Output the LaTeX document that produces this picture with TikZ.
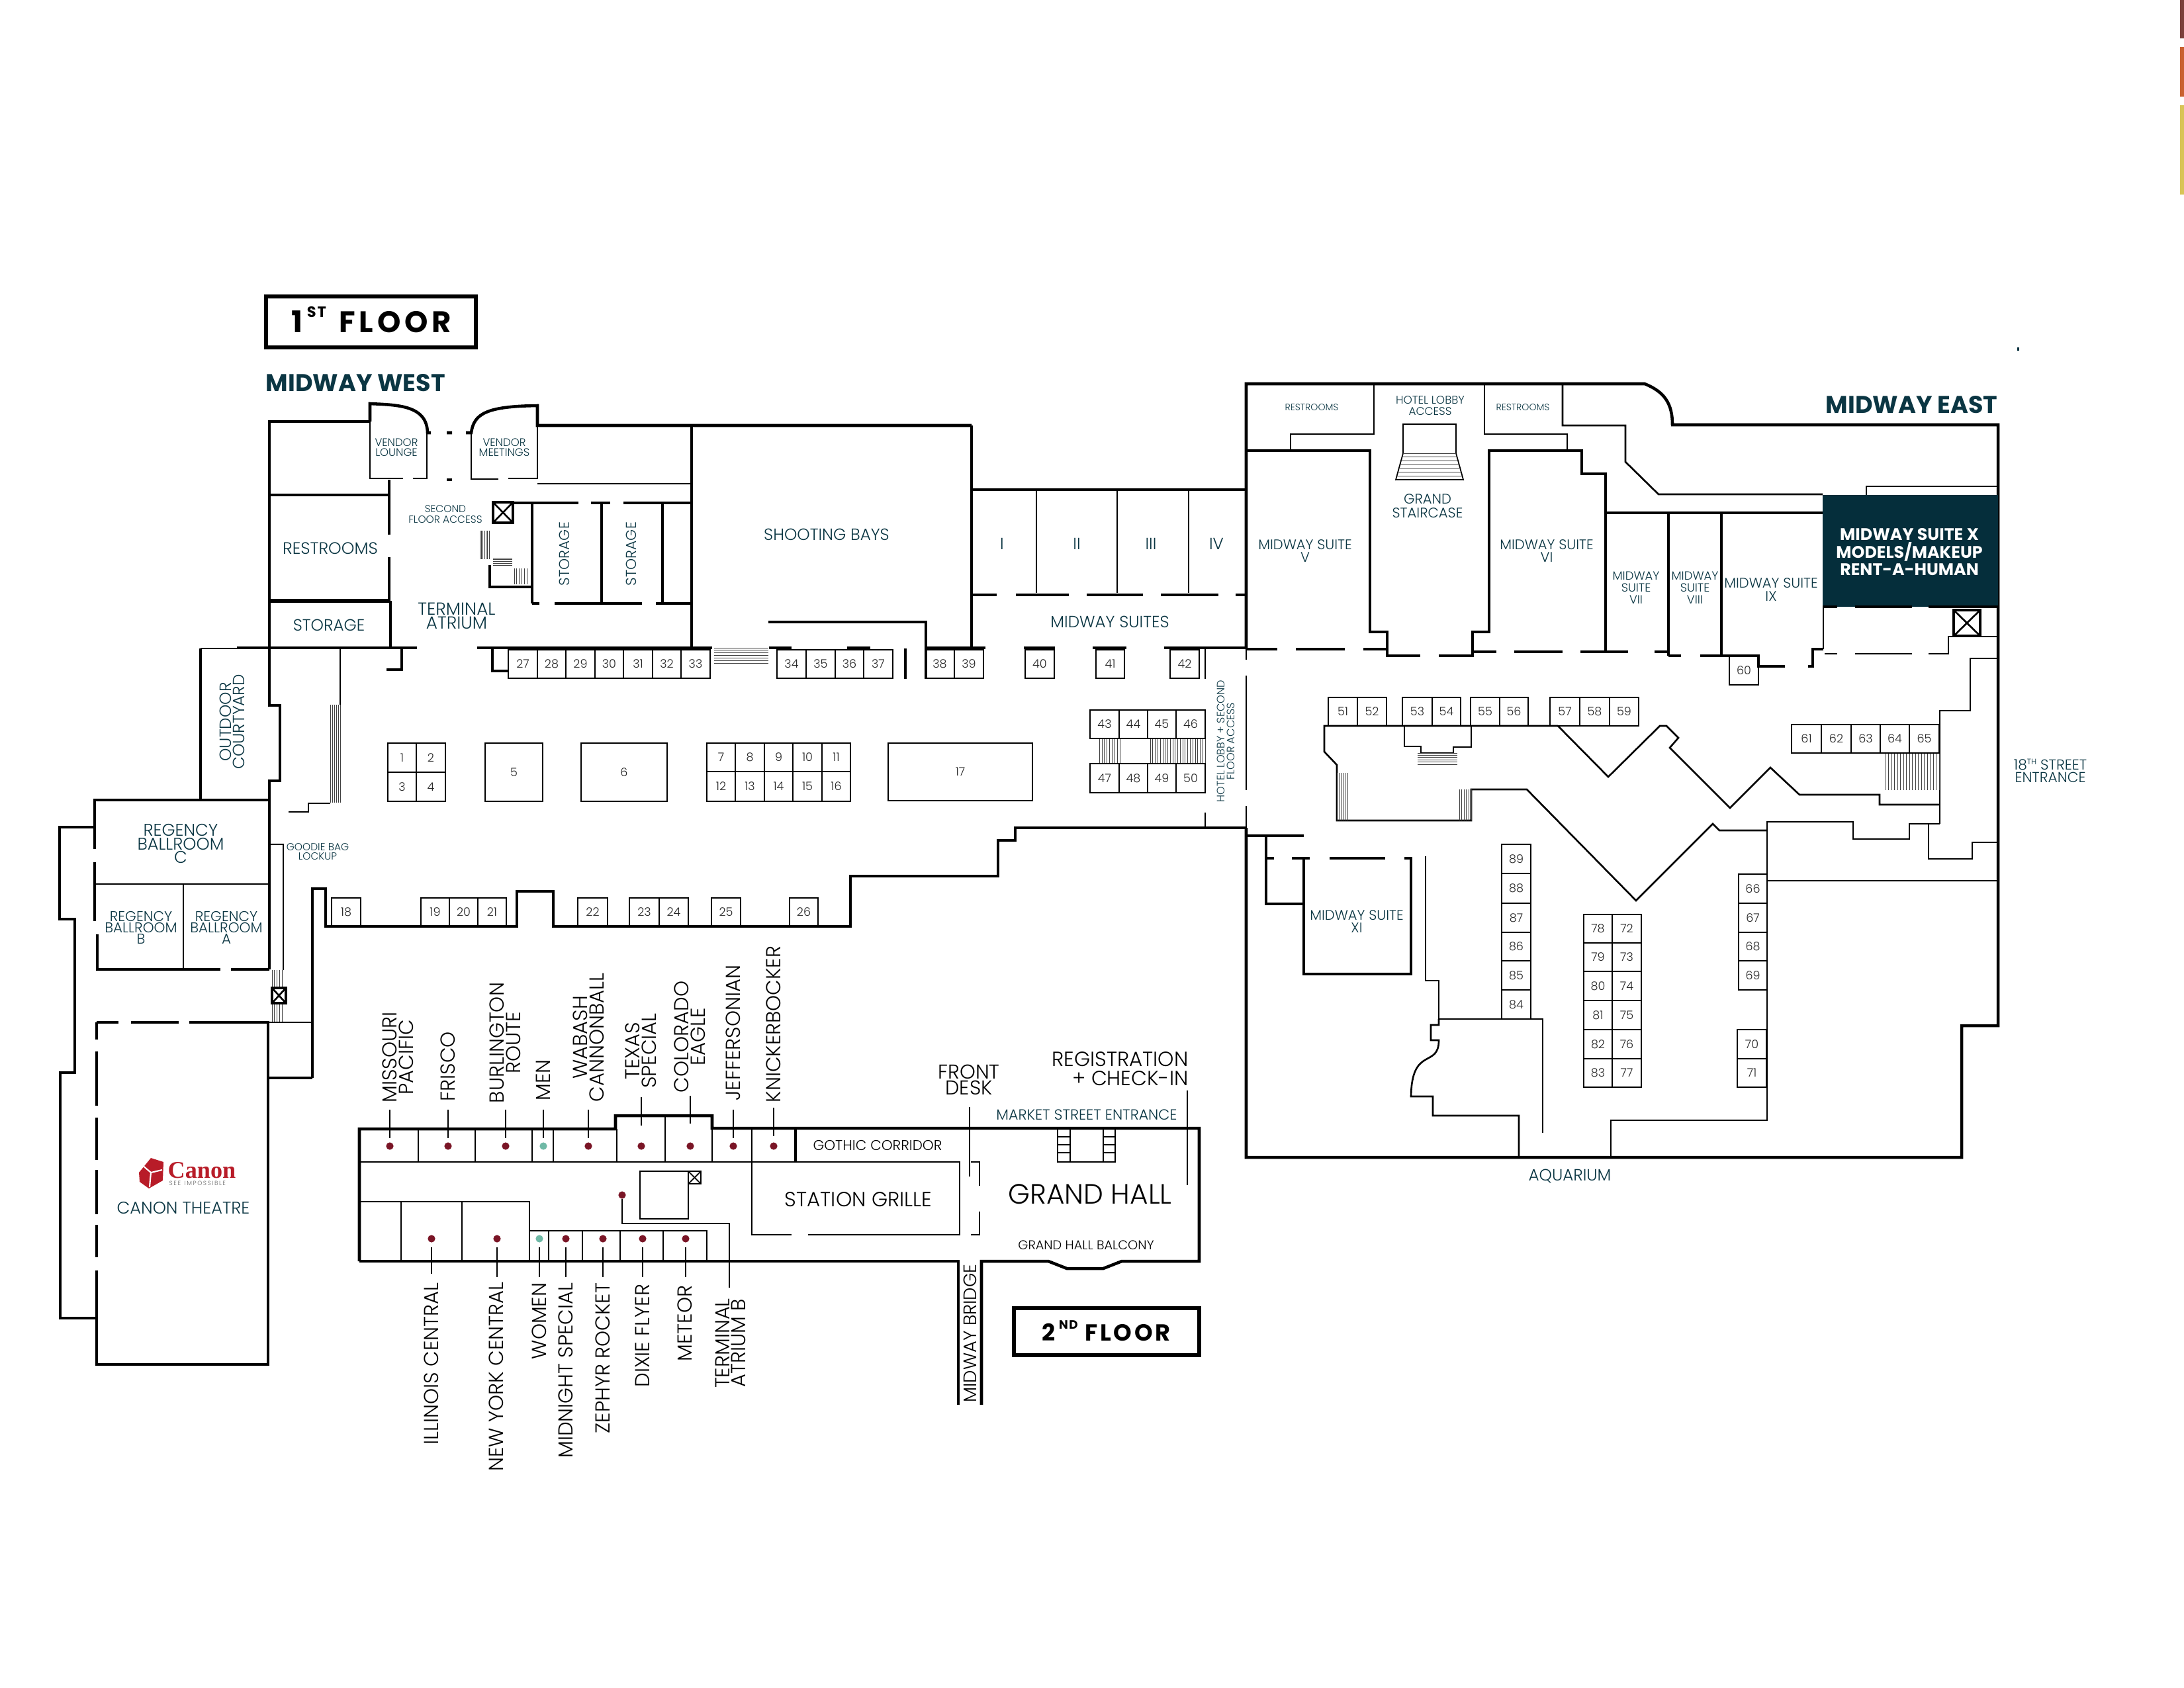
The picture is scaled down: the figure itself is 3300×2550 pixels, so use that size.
\documentclass[tikz,border=0pt]{standalone}
\usepackage{fontspec}
\setmainfont{Poppins}[UprightFont=* Light,BoldFont=* Bold]
\newfontfamily\logofont{Liberation Serif}[BoldFont=* Bold]
\definecolor{mteal}{HTML}{0B3643}
\definecolor{mbox}{HTML}{052E3B}
\definecolor{mdot}{HTML}{7A1526}
\definecolor{mgreen}{HTML}{6FB9A6}
\definecolor{mred}{HTML}{B81C28}
\definecolor{tabone}{HTML}{7B3F3A}
\definecolor{tabtwo}{HTML}{C96130}
\definecolor{tabthree}{HTML}{D8C457}
\tikzset{
  wall/.style={line width=1.3pt},
  inner/.style={line width=.75pt},
  fine/.style={line width=.5pt},
  stair/.style={line width=.22pt,black!75},
  lab/.style 2 args={font=\fontsize{#1}{#2}\selectfont,text=mteal,align=center,inner sep=0pt},
  blk/.style 2 args={font=\fontsize{#1}{#2}\selectfont,text=black,align=center,inner sep=0pt},
  num/.style={font=\fontsize{5}{6}\selectfont,text=black!85,inner sep=0pt},
  dot/.style={circle,fill=mdot,minimum size=3.2pt,inner sep=0pt},
  gdot/.style={circle,fill=mgreen,minimum size=3.2pt,inner sep=0pt}
}
\newcommand{\hatchv}[5]{\foreach \i in {0,...,#5}{\draw[stair] ({#1+(#3-#1)*\i/#5},#2) -- ({#1+(#3-#1)*\i/#5},#4);}}
\newcommand{\hatchh}[5]{\foreach \i in {0,...,#5}{\draw[stair] (#1,{#2+(#4-#2)*\i/#5}) -- (#3,{#2+(#4-#2)*\i/#5});}}
\newcommand{\liftbox}[4]{\draw[wall] (#1,#2) rectangle (#3,#4); \draw[inner] (#1,#2) -- (#3,#4) (#1,#4) -- (#3,#2);}
\begin{document}
\begin{tikzpicture}[x=0.01cm,y=-0.01cm]
\useasboundingbox (0,0) rectangle (3300,2550);

% The tabs on the page edge
\fill[tabone] (3294,0) rectangle (3300,58);
\fill[tabtwo] (3294,71) rectangle (3300,146);
\fill[tabthree] (3294,159) rectangle (3300,294);
\fill[mbox] (3048,525) rectangle (3051,530);

% The titles
\draw[line width=1.5pt] (402,448) rectangle (719,525);
\node[blk={12.8}{14},anchor=west] (firstfloor) at (440,483) {\textbf{1\hspace{1.8pt}\raisebox{.9ex}{\fontsize{6.4}{7}\selectfont\addfontfeatures{LetterSpace=8}ST}\hspace{5.5pt}\addfontfeatures{LetterSpace=13}FLOOR}};
\node[lab={10.4}{12},anchor=west] (midwaywest) at (401,579) {\textbf{MIDWAY WEST}};
\node[lab={10.4}{12},anchor=east] (midwayeast) at (3019,612) {\textbf{MIDWAY EAST}};

% The west wing walls
\draw[wall] (407,979) -- (407,637) -- (559,637);
\draw[inner] (559,637) -- (559,723) -- (609,723) (624,723) -- (645,723) -- (645,654);
\draw[wall] (559,637) -- (559,610) .. controls (600,612) and (645,612) .. (646,654) -- (651,654);
\draw[wall] (675,654) -- (683,654) (704,654) -- (712,654) .. controls (716,625) and (735,614) .. (812,613) -- (812,643) -- (1468,643);
\draw[wall] (675,725) -- (683,725);
\draw[inner] (712,654) -- (712,724) -- (753,724) (768,723) -- (812,723) -- (812,613);
\draw[inner] (812,731) -- (1045,731);
\draw[wall] (405,748) -- (588,748) (588,725) -- (588,808) (588,842) -- (588,906);
\draw[line width=1.6pt] (407,908) -- (590,908);
\draw[wall] (590,908) -- (590,979);
\draw[wall] (358,979) -- (630,979) (721,979) -- (1076,979);
\draw[wall] (607,979) -- (607,1012) -- (584,1012);
\draw[wall] (744,979) -- (744,1014) -- (768,1014);
\draw[wall] (777,760) -- (874,760) (893,760) -- (922,760) (942,760) -- (1045,760);
\draw[wall] (804,760) -- (804,912) (909,760) -- (909,912) (1001,760) -- (1001,912);
\draw[wall] (804,912) -- (815,912) (838,912) -- (970,912) (991,912) -- (1045,912);
\draw[wall] (1045,643) -- (1045,979);
\draw[wall] (740,854) -- (740,887) -- (804,887);
\liftbox{745}{759}{775}{790}
\hatchv{725}{802}{739}{845}{6}
\hatchh{745}{843}{774}{854}{4}
\hatchv{777}{859}{796}{883}{5}

% The courtyard and the ballrooms
\draw[inner] (303,980) -- (358,980);
\draw[wall] (303,980) -- (303,1209);
\draw[wall] (407,979) -- (407,1066) -- (423,1066) -- (423,1180) -- (407,1180) -- (407,1465);
\draw[inner] (514,979) -- (514,1065);
\hatchv{499}{1065}{514}{1213}{5}
\draw[inner] (436,1227) -- (466,1227) -- (466,1214) -- (499,1214);
\draw[wall] (143,1283) -- (143,1209) -- (407,1209);
\draw[wall] (143,1303) -- (143,1392) (147,1412) -- (147,1465) -- (333,1465) (349,1465) -- (407,1465);
\draw[wall] (143,1250) -- (90,1250) -- (90,1389) -- (113,1389) -- (113,1621) -- (91,1621) -- (91,1992) -- (146,1992);
\draw[inner] (145,1336) -- (407,1336) (277,1336) -- (277,1465);
\draw[inner] (408,1276) -- (428,1276) -- (428,1466);
\hatchv{411}{1466}{426}{1544}{4}
\draw[wall,fill=white] (411,1493) rectangle (432,1516);
\draw[inner] (411,1493) -- (432,1516) (411,1516) -- (432,1493);
\draw[wall] (472,1629) -- (472,1343) -- (492,1343) -- (492,1400) -- (781,1400) -- (781,1347) -- (836,1347) -- (836,1400) -- (1285,1400) -- (1285,1324) -- (1508,1324) -- (1508,1270) -- (1534,1270) -- (1534,1251) -- (1883,1251);
\draw[inner] (405,1545) -- (472,1545);
\draw[wall] (405,1629) -- (472,1629);

% The theatre
\draw[wall] (146,1545) -- (179,1545) (198,1545) -- (270,1545) (286,1545) -- (405,1545) -- (405,2062) -- (146,2062) -- (146,1920);
\draw[wall] (146,1545) -- (146,1571) (146,1589) -- (146,1671) (146,1689) -- (146,1753) (146,1768) -- (146,1835) (146,1851) -- (146,1900);
\fill[mred] (210,1772) -- (228,1750) -- (247,1756) -- (246,1784) -- (225,1796) -- (211,1786) -- cycle;
\draw[white,line width=.6pt] (214,1760) -- (228,1772) -- (245,1768) (228,1772) -- (226,1794);
\node[inner sep=0pt,text=mred,font=\logofont\bfseries\fontsize{10.3}{11}\selectfont,anchor=west] (canonword) at (253,1769) {Canon};
\node[inner sep=0pt,text=black!60,font=\fontsize{2.6}{3}\selectfont,anchor=west] (canonline) at (255,1788) {S\,E\,E\,\, I\,M\,P\,O\,S\,S\,I\,B\,L\,E};

% The shooting bays and midway suites
\draw[wall] (1161,940) -- (1399,940) -- (1399,1025);
\draw[wall] (1468,643) -- (1468,979);
\draw[wall] (1468,740) -- (1883,740);
\draw[inner] (1566,740) -- (1566,896) (1688,740) -- (1688,896) (1796,740) -- (1796,896);
\draw[wall] (1468,899) -- (1506,899) (1535,899) -- (1615,899) (1642,899) -- (1727,899) (1754,899) -- (1841,899) (1867,899) -- (1883,899);
\hatchh{1079}{979}{1161}{1002}{6}
\draw[wall] (1162,979) -- (1196,979) (1280,979) -- (1315,979) (1399,979) -- (1489,979) (1547,979) -- (1594,979) (1651,979) -- (1702,979) (1759,979) -- (1883,979);
\draw[wall] (1368,980) -- (1368,1026);
\draw[inner] (1821,981) -- (1821,1026) (1821,1228) -- (1821,1251);
\hatchv{1661}{1116}{1692}{1154}{8}
\hatchv{1738}{1116}{1821}{1154}{22}

% The east wing walls
\draw[wall] (1883,981) -- (1883,580) -- (2485,580) .. controls (2515,592) and (2527,610) .. (2527,642) -- (3019,642) -- (3019,1550) -- (2964,1550) -- (2964,1749) -- (1883,1749) -- (1883,1251);
\draw[inner] (1883,981) -- (1883,997) (1883,1021) -- (1883,1194) (1883,1218) -- (1883,1251);
\draw[inner] (2076,580) -- (2076,656) -- (1950,656) -- (1950,680);
\draw[inner] (2243,580) -- (2243,656) -- (2368,656) -- (2368,680);
\draw[inner] (2361,580) -- (2361,643) -- (2456,643) -- (2456,698) -- (2506,747) -- (2754,747);
\draw[wall] (1883,681) -- (2070,681) -- (2070,955) -- (2096,955) -- (2096,991) -- (2146,991) (2174,991) -- (2225,991) -- (2225,955) -- (2250,955) -- (2250,681) -- (2390,681) -- (2390,716) -- (2426,716) -- (2426,985);
\draw[wall] (2426,775) -- (2754,775) (2521,775) -- (2521,991) (2601,775) -- (2601,991);
\draw[wall] (1883,981) -- (1930,981) (1958,981) -- (2032,981) (2060,981) -- (2096,981);
\draw[wall] (2225,985) -- (2261,985) (2288,985) -- (2361,985) (2388,985) -- (2460,985) (2500,985) -- (2521,985);
\draw[wall] (2521,991) -- (2540,991) (2569,991) -- (2657,991) -- (2657,1007) -- (2697,1007);
\draw[wall] (2732,1007) -- (2739,1007) -- (2739,981) -- (2755,981);
\draw[inner] (2755,981) -- (2755,917);
\draw[inner] (2820,748) -- (2820,735) -- (3019,735);
\fill[mbox] (2754,748) rectangle (3019,917);
\draw[wall] (2754,917) -- (2776,917) (2803,917) -- (2889,917) (2914,917) -- (3019,917);
\draw[inner] (2757,988) -- (2776,988) (2803,988) -- (2889,988) (2914,988) -- (2944,988) -- (2944,962) -- (3019,962);
\liftbox{2952}{922}{2992}{961}
\draw[inner] (3019,995) -- (2977,995) -- (2977,1074) -- (2931,1074) -- (2931,1245);
\draw[inner] (2931,1245) -- (2885,1245) -- (2885,1268) -- (2800,1268) -- (2800,1242) -- (2670,1242) -- (2670,1693) -- (2434,1693) -- (2434,1749);
\draw[inner] (2914,1245) -- (2914,1298) -- (2980,1298) -- (2980,1273) -- (3019,1273);
\draw[fine] (2670,1331) -- (3019,1331);
\hatchv{2849}{1139}{2930}{1194}{18}

% The grand staircase
\draw[fine] (2120,685) -- (2120,641) -- (2200,641) -- (2200,685);
\draw[fine] (2120,685) -- (2109,725) -- (2211,725) -- (2200,685);
\foreach \t in {0,...,7}
{
	\draw[stair] ({2120-11*\t/7},{685+40*\t/7}) -- ({2200+11*\t/7},{685+40*\t/7});
}

% The central court of the east wing
\draw[inner] (2354,1097) -- (2001,1097) -- (2001,1136) -- (2020,1156) -- (2020,1240) -- (2223,1240) -- (2223,1193) -- (2307,1193) -- (2472,1361) -- (2588,1245) -- (2598,1255) -- (2670,1255);
\draw[inner] (2354,1097) -- (2430,1174) -- (2508,1097) -- (2518,1097) -- (2536,1115) -- (2523,1130) -- (2614,1221) -- (2675,1160) -- (2719,1201) -- (2840,1201) -- (2840,1216) -- (2931,1216);
\draw[inner] (2122,1097) -- (2122,1128) -- (2147,1128) -- (2147,1138) -- (2196,1138) -- (2196,1129) -- (2223,1129) -- (2223,1097);
\hatchv{2020}{1168}{2036}{1240}{5}
\hatchv{2205}{1193}{2223}{1240}{5}
\hatchh{2142}{1138}{2202}{1155}{5}

% The suite in the south east corner
\draw[wall] (1883,1263) -- (1970,1263) (1913,1263) -- (1913,1366) -- (1970,1366);
\draw[wall] (1915,1297) -- (1925,1297) (1952,1297) -- (1979,1297) (2009,1297) -- (2093,1297) (2122,1297) -- (2132,1297) -- (2132,1472) -- (1970,1472) -- (1970,1297);
\draw[inner] (2154,1294) -- (2154,1482) -- (2174,1482) -- (2174,1540) -- (2331,1540) -- (2331,1712);
\draw[inner] (2174,1540) -- (2174,1549) -- (2162,1549) -- (2162,1572) -- (2174,1572) .. controls (2174,1615) and (2133,1580) .. (2132,1657) -- (2165,1657) -- (2165,1686) -- (2295,1686) -- (2295,1749);

% The numbered booths
\foreach \n/\xa/\xb in {27/768/812,28/812/855,29/855/899,30/899/942,31/942/986,32/986/1029,33/1029/1073,34/1174/1218,35/1218/1262,36/1262/1305,37/1305/1349,38/1398/1442,39/1442/1486,40/1549/1593,41/1656/1699,42/1768/1812}
{
	\draw[inner] (\xa,982) rectangle (\xb,1025) node[pos=.5,num] (booth\n) {\n};
}
\foreach \n/\xa/\xb/\ya/\yb in {1/586/629/1123/1167,2/629/673/1123/1167,3/586/629/1167/1211,4/629/673/1167/1211,5/733/820/1123/1211,6/878/1008/1123/1211,7/1068/1111/1123/1166,8/1111/1155/1123/1166,9/1155/1198/1123/1166,10/1198/1242/1123/1166,11/1242/1285/1123/1166,12/1068/1111/1166/1211,13/1111/1155/1166/1211,14/1155/1198/1166/1211,15/1198/1242/1166/1211,16/1242/1285/1166/1211,17/1342/1560/1123/1210}
{
	\draw[inner] (\xa,\ya) rectangle (\xb,\yb) node[pos=.5,num] (booth\n) {\n};
}
\foreach \n/\xa/\xb in {18/501/545,19/636/679,20/679/722,21/722/765,22/873/918,23/951/996,24/996/1040,25/1075/1119,26/1193/1236}
{
	\draw[inner] (\xa,1357) rectangle (\xb,1400) node[pos=.5,num] (booth\n) {\n};
}
\foreach \n/\xa/\xb/\ya/\yb in {43/1647/1691/1073/1116,44/1691/1734/1073/1116,45/1734/1777/1073/1116,46/1777/1821/1073/1116,47/1647/1691/1154/1198,48/1691/1734/1154/1198,49/1734/1777/1154/1198,50/1777/1821/1154/1198,60/2613/2657/991/1035}
{
	\draw[inner] (\xa,\ya) rectangle (\xb,\yb) node[pos=.5,num] (booth\n) {\n};
}
\foreach \n/\xa/\xb in {51/2007/2051,52/2051/2095,53/2119/2164,54/2164/2207,55/2222/2266,56/2266/2309,57/2342/2387,58/2387/2432,59/2432/2476}
{
	\draw[inner] (\xa,1054) rectangle (\xb,1097) node[pos=.5,num] (booth\n) {\n};
}
\foreach \n/\xa/\xb in {61/2707/2752,62/2752/2797,63/2797/2841,64/2841/2885,65/2885/2930}
{
	\draw[inner] (\xa,1095) rectangle (\xb,1138) node[pos=.5,num] (booth\n) {\n};
}
\foreach \n/\ya/\yb in {89/1276/1320,88/1320/1365,87/1365/1409,86/1409/1452,85/1452/1496,84/1496/1540}
{
	\draw[inner] (2269,\ya) rectangle (2313,\yb) node[pos=.5,num] (booth\n) {\n};
}
\foreach \na/\nb/\ya/\yb in {78/72/1382/1425,79/73/1425/1468,80/74/1468/1512,81/75/1512/1556,82/76/1556/1600,83/77/1600/1643}
{
	\draw[inner] (2393,\ya) rectangle (2436,\yb) node[pos=.5,num] (booth\na) {\na};
	\draw[inner] (2436,\ya) rectangle (2480,\yb) node[pos=.5,num] (booth\nb) {\nb};
}
\foreach \n/\ya/\yb in {66/1321/1365,67/1365/1409,68/1409/1452,69/1452/1496}
{
	\draw[inner] (2627,\ya) rectangle (2670,\yb) node[pos=.5,num] (booth\n) {\n};
}
\foreach \n/\ya/\yb in {70/1556/1600,71/1600/1643}
{
	\draw[inner] (2625,\ya) rectangle (2669,\yb) node[pos=.5,num] (booth\n) {\n};
}

% The labels of the first floor
\node[lab={4.7}{4.4}] (lounge) at (599,676) {VENDOR\\LOUNGE};
\node[lab={4.7}{4.4}] (meetings) at (762,676) {VENDOR\\MEETINGS};
\node[lab={4.4}{4.6}] (access) at (673,777) {SECOND\\FLOOR ACCESS};
\node[lab={7.1}{8}] (restrooms) at (499,829) {RESTROOMS};
\node[lab={7}{8}] (storage) at (497,945) {STORAGE};
\node[lab={7.5}{5.9}] (atrium) at (690,931) {TERMINAL\\ATRIUM};
\node[lab={6.2}{7},rotate=90] (storagea) at (853,837) {STORAGE};
\node[lab={6.2}{7},rotate=90] (storageb) at (954,837) {STORAGE};
\node[lab={7}{5.8},rotate=90] (courtyard) at (351,1091) {OUTDOOR\\COURTYARD};
\node[lab={7.3}{5.8}] (ballroomc) at (273,1275) {REGENCY\\BALLROOM\\C};
\node[lab={6.1}{4.8}] (ballroomb) at (213,1402) {REGENCY\\BALLROOM\\B};
\node[lab={6.1}{4.8}] (ballrooma) at (342,1402) {REGENCY\\BALLROOM\\A};
\node[lab={4.4}{4}] (goodie) at (480,1287) {GOODIE BAG\\LOCKUP};
\node[lab={7.3}{8}] (theatre) at (277,1825) {CANON THEATRE};
\node[lab={7}{8}] (bays) at (1249,808) {SHOOTING BAYS};
\node[lab={7}{8}] (suites) at (1677,940) {MIDWAY SUITES};
\foreach \lbl/\xa in {I/1514,II/1627,III/1739,IV/1838}
{
	\node[lab={7}{8}] (suite\lbl) at (\xa,822) {\lbl};
}
\node[lab={4.6}{4.3},rotate=90] (lobbyaccess) at (1852,1120) {HOTEL LOBBY + SECOND\\FLOOR ACCESS};
\node[lab={4}{5}] (restroomsa) at (1982,616) {RESTROOMS};
\node[lab={4}{5}] (restroomsb) at (2301,616) {RESTROOMS};
\node[lab={4.8}{4.6}] (lobby) at (2161,613) {HOTEL LOBBY\\ACCESS};
\node[lab={6}{6}] (staircase) at (2157,765) {GRAND\\STAIRCASE};
\node[lab={6}{5.4}] (suitev) at (1972,833) {MIDWAY SUITE\\V};
\node[lab={6}{5.4}] (suitevi) at (2337,833) {MIDWAY SUITE\\VI};
\node[lab={5.1}{5.2}] (suitevii) at (2472,888) {MIDWAY\\SUITE\\VII};
\node[lab={5.1}{5.2}] (suiteviii) at (2561,888) {MIDWAY\\SUITE\\VIII};
\node[lab={6}{5.6}] (suiteix) at (2676,891) {MIDWAY SUITE\\IX};
\node[lab={7.2}{5.9},text=white] (suitex) at (2885,834) {\textbf{MIDWAY SUITE X}\\\textbf{MODELS/MAKEUP}\\\textbf{RENT-A-HUMAN}};
\node[lab={6}{5.4}] (suitexi) at (2050,1393) {MIDWAY SUITE\\XI};
\node[lab={6.2}{5.4}] (street) at (3098,1165) {18\raisebox{.7ex}{\fontsize{3.4}{4}\selectfont TH} STREET\\ENTRANCE};
\node[lab={7}{8}] (aquarium) at (2372,1777) {AQUARIUM};

% The second floor walls
\draw[wall] (543,1906) -- (543,1706) -- (930,1706) -- (930,1686) -- (1076,1686) -- (1076,1705) -- (1812,1705) -- (1812,1906) -- (1695,1906) -- (1667,1917) -- (1612,1917) -- (1584,1906) -- (1483,1906) -- (1483,2123);
\draw[wall] (1448,2123) -- (1448,1906) -- (543,1906);
\draw[inner] (543,1756) -- (1450,1756) -- (1450,1866) -- (1221,1866) (1196,1866) -- (1136,1866) -- (1136,1756);
\draw[wall] (1202,1705) -- (1202,1756);
\foreach \xa in {632,718,804,836}
{
	\draw[fine] (\xa,1706) -- (\xa,1756);
}
\foreach \xa in {1005,1076}
{
	\draw[fine] (\xa,1686) -- (\xa,1756);
}
\draw[fine] (932,1706) -- (932,1756) (1136,1705) -- (1136,1756);
\draw[inner] (543,1816) -- (800,1816) -- (800,1906) (606,1816) -- (606,1906) (698,1816) -- (698,1906);
\draw[fine] (800,1860) -- (1068,1860) -- (1068,1906);
\foreach \xa in {829,880,937,1002}
{
	\draw[fine] (\xa,1860) -- (\xa,1906);
}
\draw[inner] (967,1770) rectangle (1040,1842);
\draw[fine] (1040,1770) rectangle (1059,1789) (1040,1770) -- (1059,1789) (1040,1789) -- (1059,1770);
\draw[inner] (1467,1756) -- (1480,1756) -- (1480,1792) (1480,1831) -- (1480,1866) -- (1467,1866);
\draw[inner] (1598,1705) rectangle (1617,1756) (1667,1705) rectangle (1685,1756) (1617,1756) -- (1667,1756);
\foreach \ya in {1718,1730,1742}
{
	\draw[inner] (1598,\ya) -- (1617,\ya) (1667,\ya) -- (1685,\ya);
}
\draw[line width=1.5pt] (1532,1977) rectangle (1812,2048);

% The meeting rooms of the second floor
\foreach \name/\xa in {a/589,b/677,c/764,e/889,f/969,g/1043,h/1108,i/1169}
{
	\node[dot] (top\name) at (\xa,1732) {};
}
\node[gdot] (topd) at (821,1732) {};
\foreach \name/\xa in {a/652,b/751,d/855,e/911,f/971,g/1036}
{
	\node[dot] (low\name) at (\xa,1872) {};
}
\node[gdot] (lowc) at (815,1872) {};
\node[dot] (atriumb) at (940,1806) {};
\foreach \xa/\ya/\yb in {589/1677/1720,677/1677/1720,764/1677/1720,821/1677/1720,889/1677/1720,969/1658/1701,1043/1656/1698,1108/1677/1720,1169/1674/1717}
{
	\draw[fine] (\xa,\ya) -- (\xa,\yb);
}
\foreach \xa/\yb in {652/1925,751/1930,815/1930,855/1930,911/1930,971/1930,1036/1930}
{
	\draw[fine] (\xa,1885) -- (\xa,\yb);
}
\draw[inner] (atriumb) -- (940,1849) -- (1102,1849) -- (1102,1946);
\draw[fine] (1465,1673) -- (1465,1778);
\draw[fine] (1794,1648) -- (1794,1791);

% The labels of the second floor
\node[blk={8.7}{7},rotate=90] (missouri) at (601,1598) {MISSOURI\\PACIFIC};
\node[blk={8.7}{7},rotate=90,anchor=west] (frisco) at (677,1665) {FRISCO};
\node[blk={8.7}{7},rotate=90] (burlington) at (763,1576) {BURLINGTON\\ROUTE};
\node[blk={8.7}{7},rotate=90,anchor=west] (men) at (821,1664) {MEN};
\node[blk={8.7}{7},rotate=90] (wabash) at (889,1568) {WABASH\\CANNONBALL};
\node[blk={8.7}{7},rotate=90] (texas) at (968,1588) {TEXAS\\SPECIAL};
\node[blk={8.7}{7},rotate=90] (colorado) at (1042,1567) {COLORADO\\EAGLE};
\node[blk={8.7}{7},rotate=90,anchor=west] (jefferson) at (1108,1664) {JEFFERSONIAN};
\node[blk={8.7}{7},rotate=90,anchor=west] (knicker) at (1169,1667) {KNICKERBOCKER};
\node[blk={8.7}{7},rotate=90,anchor=east] (illinois) at (652,1938) {ILLINOIS CENTRAL};
\node[blk={8.7}{7},rotate=90,anchor=east] (newyork) at (750,1937) {NEW YORK CENTRAL};
\node[blk={8.7}{7},rotate=90,anchor=east] (women) at (815,1938) {WOMEN};
\node[blk={8.7}{7},rotate=90,anchor=east] (midnight) at (855,1938) {MIDNIGHT SPECIAL};
\node[blk={8.7}{7},rotate=90,anchor=east] (zephyr) at (911,1938) {ZEPHYR ROCKET};
\node[blk={8.7}{7},rotate=90,anchor=east] (dixie) at (971,1940) {DIXIE FLYER};
\node[blk={8.7}{7},rotate=90,anchor=east] (meteor) at (1035,1942) {METEOR};
\node[blk={8.7}{7},rotate=90] (terminalb) at (1104,2030) {TERMINAL\\ATRIUM B};
\node[blk={7.8}{7},rotate=90] (bridge) at (1466,2015) {MIDWAY BRIDGE};
\node[blk={8.6}{7}] (frontdesk) at (1464,1632) {FRONT\\DESK};
\node[blk={8.8}{8.2},align=right,anchor=east] (registration) at (1796,1615) {REGISTRATION\\+ CHECK-IN};
\node[lab={6.3}{6}] (market) at (1642,1685) {MARKET STREET ENTRANCE};
\node[blk={6.1}{6}] (gothic) at (1326,1731) {GOTHIC CORRIDOR};
\node[blk={8.8}{8}] (grille) at (1297,1813) {STATION GRILLE};
\node[blk={12}{12}] (grandhall) at (1647,1805) {GRAND HALL};
\node[blk={5.5}{6}] (balcony) at (1641,1882) {GRAND HALL BALCONY};
\node[blk={10}{12},anchor=west] (secondfloor) at (1574,2011) {\textbf{2\hspace{1.5pt}\raisebox{.95ex}{\fontsize{5.2}{6}\selectfont\addfontfeatures{LetterSpace=8}ND}\hspace{3pt}\addfontfeatures{LetterSpace=11}FLOOR}};
\end{tikzpicture}
\end{document}
